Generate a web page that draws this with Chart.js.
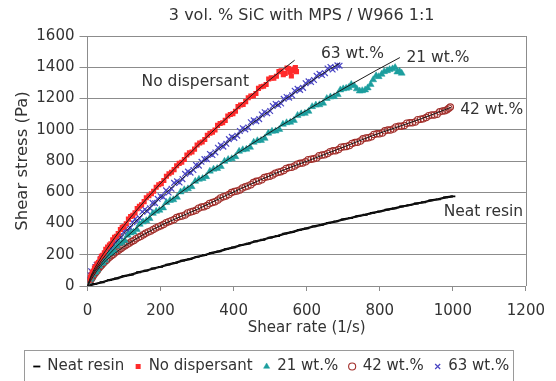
<!DOCTYPE html>
<html lang="en">
<head>
  <meta charset="UTF-8">
  <title>Shear stress vs shear rate</title>
  <style>
    body { margin: 0; background: #fff; }
    .wrap { width: 556px; height: 381px; position: relative; }
  </style>
</head>
<body>
<div class="wrap"><canvas id="flowChart"></canvas></div>
<script src="https://cdn.jsdelivr.net/npm/chart.js"></script>
<script>
  const chartTitle = '3 vol. % SiC with MPS / W966 1:1';
  const seriesNames = ['Neat resin', 'No dispersant', '21 wt.%', '42 wt.%', '63 wt.%'];

  // measured points as [shear rate (1/s), shear stress (Pa)]
  const neatResin = [[0,0],[20,13],[40,24],[60,38],[80,49],[100,63],[120,73],[140,88],[160,98],[180,112],[200,123],[220,137],[240,148],[260,162],[280,172],[300,187],[320,197],[340,212],[360,222],[380,236],[400,247],[420,261],[440,271],[460,286],[480,296],[500,310],[520,320],[540,335],[560,345],[580,359],[600,369],[620,382],[640,391],[660,404],[680,413],[700,426],[720,435],[740,447],[760,456],[780,468],[800,477],[820,489],[840,497],[860,509],[880,517],[900,528],[920,536],[940,548],[960,555],[980,567],[1000,574]];

  const noDispersant = [[4,35],[7,55],[10,70],[13,88],[16,95],[19,115],[22,125],[26,142],[30,150],[34,172],[38,190],[42,196],[46,212],[50,235],[55,250],[60,262],[64,270],[69,295],[74,312],[79,318],[84,335],[90,362],[95,375],[100,380],[106,398],[112,428],[118,445],[124,452],[130,468],[136,495],[142,510],[148,520],[155,540],[161,565],[168,578],[175,590],[181,606],[188,632],[195,648],[202,655],[209,675],[216,702],[223,718],[230,728],[237,745],[244,770],[251,785],[258,792],[265,810],[272,838],[279,852],[286,858],[293,876],[300,902],[307,915],[314,922],[321,938],[328,965],[335,978],[342,985],[349,998],[356,1028],[363,1040],[370,1045],[377,1060],[384,1088],[391,1098],[398,1102],[405,1118],[412,1148],[419,1158],[426,1162],[433,1180],[440,1205],[447,1215],[454,1218],[461,1232],[468,1265],[475,1275],[482,1278],[489,1290],[496,1325],[503,1332],[510,1330],[517,1342],[524,1372],[530,1378],[536,1352],[541,1360],[546,1395],[550,1392],[554,1368],[558,1345],[562,1380],[565,1388],[569,1398],[572,1372]];

  const wt21 = [[4,30],[7,42],[10,50],[14,70],[18,88],[22,90],[27,105],[32,128],[37,145],[42,148],[48,165],[54,190],[60,208],[66,212],[73,228],[80,255],[87,272],[94,278],[102,292],[110,325],[118,340],[126,345],[135,362],[143,395],[152,410],[161,418],[170,432],[179,465],[188,478],[197,485],[207,500],[216,535],[226,548],[235,552],[245,568],[255,602],[265,616],[275,622],[285,636],[295,670],[305,683],[315,688],[325,700],[335,735],[345,748],[355,752],[365,765],[375,798],[385,810],[395,815],[405,828],[415,862],[425,872],[435,876],[445,888],[455,920],[465,930],[475,932],[485,945],[495,978],[505,990],[515,992],[525,1002],[535,1035],[545,1045],[555,1048],[565,1060],[575,1092],[585,1102],[595,1105],[605,1118],[615,1148],[625,1158],[635,1160],[645,1170],[655,1200],[665,1210],[675,1212],[685,1225],[692,1255],[700,1262],[708,1265],[715,1270],[722,1290],[730,1282],[737,1262],[745,1248],[752,1250],[760,1255],[767,1268],[775,1290],[782,1320],[790,1345],[797,1340],[805,1355],[812,1372],[820,1378],[827,1385],[835,1390],[842,1398],[848,1370],[854,1375],[860,1362]];

  const wt42 = [[3,15],[5,25],[8,35],[11,47],[14,58],[17,70],[20,80],[23,88],[27,100],[31,114],[35,125],[39,134],[43,145],[47,156],[52,165],[56,176],[61,185],[66,195],[71,203],[76,214],[81,222],[86,231],[92,240],[97,250],[103,258],[109,268],[115,275],[121,285],[127,292],[133,303],[140,312],[146,318],[153,328],[159,338],[166,346],[173,352],[180,362],[187,372],[194,380],[201,386],[208,394],[215,405],[222,412],[229,418],[237,425],[244,438],[252,445],[259,448],[267,455],[274,468],[282,474],[289,478],[297,485],[304,498],[312,505],[319,508],[327,515],[334,528],[342,535],[349,540],[357,550],[364,564],[372,572],[379,576],[387,585],[394,598],[402,605],[409,608],[417,615],[424,628],[432,635],[439,640],[447,648],[454,662],[462,670],[469,672],[477,680],[484,694],[492,700],[499,703],[507,710],[514,722],[522,728],[529,732],[537,740],[544,752],[552,758],[559,760],[567,768],[574,780],[582,785],[589,788],[597,795],[604,808],[612,812],[619,814],[627,820],[634,834],[642,838],[649,840],[657,848],[664,860],[672,865],[679,866],[687,873],[694,888],[702,892],[709,893],[717,900],[724,912],[732,918],[739,920],[747,928],[754,942],[762,948],[769,949],[777,955],[784,970],[792,975],[799,974],[807,980],[814,993],[822,998],[829,998],[837,1005],[844,1018],[852,1022],[859,1022],[867,1028],[874,1042],[882,1045],[889,1045],[897,1050],[904,1064],[912,1068],[919,1070],[927,1078],[934,1090],[942,1095],[949,1095],[957,1100],[964,1115],[972,1120],[978,1122],[984,1128],[989,1138],[993,1145]];

  const wt63 = [[4,45],[7,70],[10,95],[13,62],[17,80],[21,120],[25,135],[29,128],[33,150],[37,172],[42,190],[46,178],[51,198],[56,232],[61,245],[66,238],[71,268],[76,285],[82,290],[87,318],[93,312],[99,345],[105,365],[111,352],[117,372],[123,408],[130,428],[136,415],[143,435],[150,475],[157,490],[164,478],[171,498],[178,532],[185,530],[192,558],[200,575],[207,570],[215,612],[222,598],[230,622],[237,660],[245,670],[252,662],[260,684],[267,718],[275,732],[282,725],[290,742],[297,775],[305,770],[312,795],[320,812],[327,812],[335,845],[342,838],[350,855],[357,885],[365,900],[372,892],[380,910],[387,940],[395,955],[402,948],[410,962],[417,992],[425,1010],[432,1002],[440,1015],[447,1048],[455,1060],[462,1055],[470,1068],[477,1098],[485,1112],[492,1105],[500,1120],[507,1152],[515,1165],[522,1158],[530,1168],[537,1198],[545,1210],[552,1205],[560,1220],[567,1250],[575,1262],[582,1255],[590,1268],[597,1298],[605,1310],[612,1305],[620,1318],[627,1345],[635,1358],[642,1350],[650,1362],[657,1392],[665,1402],[671,1385],[678,1398],[684,1412],[690,1410]];

  // fitted trend lines
  const fitNeat = [[0,0],[300,186],[600,370],[1000,575]];
  const fitNoDispersant = [[0,0],[10,67],[25,135],[50,228],[100,387],[175,593],[260,802],[340,984],[425,1170],[500,1322],[567,1445]];
  const fit21 = [[0,0],[10,54],[25,108],[50,179],[100,299],[150,404],[230,554],[310,691],[390,818],[470,940],[550,1055],[630,1167],[710,1275],[790,1380],[855,1462]];
  const fit42 = [[0,0],[10,40],[25,95],[45,150],[74,208],[110,268],[150,325],[212,400],[300,490],[380,580],[469,675],[558,762],[602,800],[691,880],[780,962],[833,1005],[913,1070],[995,1143]];
  const fit63 = [[0,0],[10,60],[25,119],[50,200],[100,337],[180,523],[270,709],[360,879],[450,1040],[540,1193],[630,1339],[690,1425]];

  // curve labels inside the plot (data coordinates)
  const noteText = ['No dispersant', '63 wt.%', '21 wt.%', '42 wt.%', 'Neat resin'];
  const noteX = [148, 639, 873, 1020, 975];
  const noteY = [1306, 1488, 1462, 1126, 474];

  const FONT = 'DejaVu Sans';
  const TEXT = '#333333';
  const GRID = '#8c8c8c';

  const pts = rows => rows.map(r => ({ x: r[0], y: r[1] }));

  function fitLine(rows) {
    return {
      label: '',
      data: pts(rows),
      showLine: true,
      borderColor: '#1a1a1a',
      borderWidth: 1,
      pointRadius: 0,
      cubicInterpolationMode: 'monotone'
    };
  }

  const decor = {
    id: 'decor',
    afterLayout(chart) {
      chart.legend.top += 3;
      chart.legend.bottom += 3;
    },
    afterDraw(chart) {
      const ctx = chart.ctx;
      const area = chart.chartArea;
      const xs = chart.scales.x, ys = chart.scales.y;
      ctx.save();
      // right border of plot
      ctx.strokeStyle = GRID;
      ctx.lineWidth = 1;
      ctx.beginPath();
      ctx.moveTo(Math.round(area.right) + 0.5, area.top);
      ctx.lineTo(Math.round(area.right) + 0.5, area.bottom);
      ctx.stroke();

      // title over the plot
      ctx.fillStyle = TEXT;
      ctx.font = '16px "' + FONT + '"';
      ctx.textAlign = 'center';
      ctx.textBaseline = 'middle';
      ctx.fillText(chartTitle, (area.left + area.right) / 2 - 5, 16);

      // curve labels
      ctx.font = '15.5px "' + FONT + '"';
      ctx.textAlign = 'left';
      noteText.forEach((t, i) => {
        ctx.fillText(t, xs.getPixelForValue(noteX[i]), ys.getPixelForValue(noteY[i]));
      });

      // box round the legend
      const lg = chart.legend;
      const lo = lg.options.labels;
      ctx.font = lo.font.size + 'px "' + FONT + '"';
      let lineW = 0;
      seriesNames.forEach(n => { lineW += lo.boxWidth + lo.font.size / 2 + ctx.measureText(n).width + lo.padding; });
      const startX = (lg.left + lo.padding + lg.right - lineW) / 2;
      const midY = lg.top + lo.padding + lo.font.size / 2;
      ctx.strokeStyle = '#9a9a9a';
      ctx.strokeRect(Math.round(startX - 10) + 0.5, Math.round(midY - 17) + 0.5, Math.round(lineW - lo.padding + 14), 40);
      ctx.restore();
    }
  };

  const ctx = document.getElementById('flowChart').getContext('2d');
  new Chart(ctx, {
    type: 'scatter',
    data: {
      datasets: [
        fitLine(fitNeat),
        fitLine(fitNoDispersant),
        fitLine(fit21),
        fitLine(fit42),
        fitLine(fit63),
        {
          label: seriesNames[0],
          data: pts(neatResin),
          showLine: true,
          borderColor: '#000',
          borderWidth: 2.2,
          pointStyle: 'line',
          pointRadius: 2.5,
          pointBorderWidth: 1.8,
          pointBorderColor: '#000',
          pointBackgroundColor: '#000'
        },
        {
          label: seriesNames[1],
          data: pts(noDispersant),
          pointStyle: 'rect',
          pointRadius: 3.6,
          pointBorderWidth: 0,
          pointBackgroundColor: '#ff2b2b',
          pointBorderColor: '#ff2b2b'
        },
        {
          label: seriesNames[2],
          data: pts(wt21),
          pointStyle: 'triangle',
          pointRadius: 4,
          pointBorderWidth: 0.5,
          pointBackgroundColor: '#1c9e9e',
          pointBorderColor: '#1c9e9e'
        },
        {
          label: seriesNames[3],
          data: pts(wt42),
          pointStyle: 'circle',
          pointRadius: 3.2,
          pointBorderWidth: 1.1,
          pointBackgroundColor: 'rgba(255,255,255,0)',
          pointBorderColor: '#a2302c'
        },
        {
          label: seriesNames[4],
          data: pts(wt63),
          pointStyle: 'crossRot',
          pointRadius: 4,
          pointBorderWidth: 1.2,
          pointBackgroundColor: '#4a46c4',
          pointBorderColor: '#4a46c4'
        }
      ]
    },
    options: {
      responsive: true,
      maintainAspectRatio: false,
      animation: false,
      layout: { padding: { left: 5, right: 18, top: 36, bottom: 0 } },
      plugins: {
        title: { display: false },
        tooltip: { enabled: false },
        legend: {
          position: 'bottom',
          labels: {
            usePointStyle: true,
            boxWidth: 6,
            boxHeight: 5,
            padding: 11,
            color: TEXT,
            font: { family: FONT, size: 15 },
            filter: item => item.text !== ''
          }
        }
      },
      scales: {
        x: {
          type: 'linear',
          min: 0,
          max: 1200,
          afterFit(scale) { scale.height = 59; },
          ticks: { stepSize: 200, color: TEXT, padding: 11, font: { family: FONT, size: 15 }, callback: v => String(v) },
          grid: { drawOnChartArea: false, drawTicks: true, tickLength: 5, color: GRID },
          border: { color: GRID },
          title: {
            display: true,
            text: 'Shear rate (1/s)',
            color: TEXT,
            font: { family: FONT, size: 15 },
            padding: { top: 0, bottom: 8 }
          }
        },
        y: {
          min: 0,
          max: 1600,
          afterFit(scale) { scale.width = 82.5; },
          ticks: { stepSize: 200, color: TEXT, padding: 5, font: { family: FONT, size: 15 }, callback: v => String(v) },
          grid: { color: GRID, tickLength: 8 },
          border: { color: GRID },
          title: {
            display: true,
            text: 'Shear stress (Pa)',
            color: TEXT,
            font: { family: FONT, size: 16.5 },
            padding: { top: 8, bottom: 0 }
          }
        }
      }
    },
    plugins: [decor]
  });
</script>
</body>
</html>
